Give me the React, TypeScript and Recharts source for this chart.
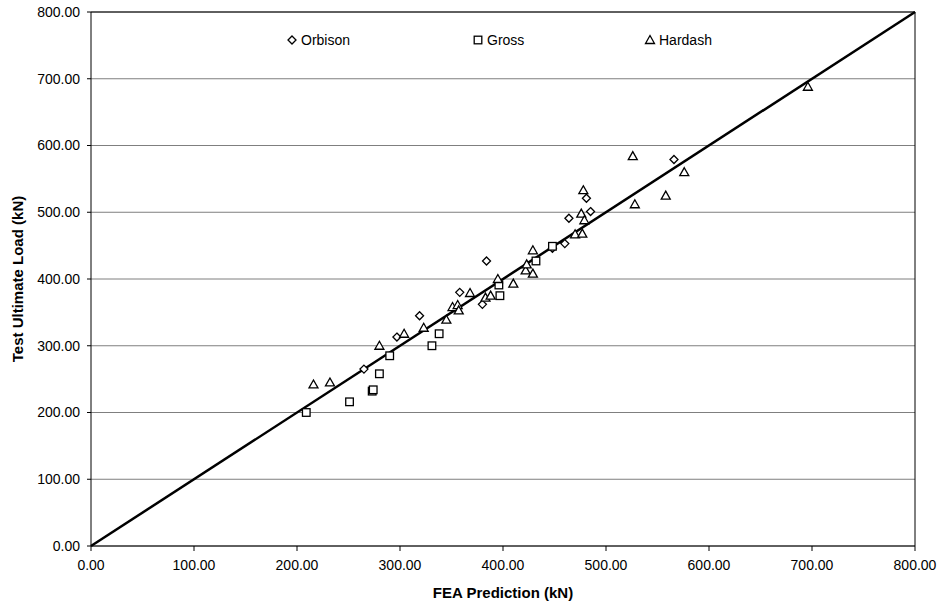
import { ScatterChart, Scatter, XAxis, YAxis, CartesianGrid, ReferenceLine } from 'recharts'

const axisTicks = [0, 100, 200, 300, 400, 500, 600, 700, 800]

const orbisonFea = [265, 297, 319, 358, 380, 384, 448, 460, 464, 481, 485, 566]
const orbisonTest = [265, 313, 345, 380, 362, 427, 446, 453, 491, 521, 501, 579]

const grossFea = [209, 251, 273, 274, 280, 290, 331, 338, 396, 397, 432, 448]
const grossTest = [200, 216, 232, 234, 258, 285, 300, 318, 391, 375, 427, 449]

const hardashFea = [216, 232, 280, 304, 323, 345, 351, 356, 357, 368, 383, 388, 395, 410, 422, 423, 429, 429, 470, 476, 477, 478, 479, 526, 528, 558, 576, 696]
const hardashTest = [242, 245, 300, 318, 327, 339, 358, 361, 353, 379, 372, 375, 400, 393, 413, 422, 443, 408, 467, 498, 468, 533, 488, 584, 512, 525, 560, 688]

const equality = [0, 800]

const zip = (xs: number[], ys: number[]) => xs.map((x, i) => ({ x, y: ys[i] }))

const font = '"Liberation Sans", Arial, sans-serif'

function Diamond(props: any) {
  const { cx, cy } = props
  const r = 4
  return <path d={`M${cx},${cy - r}L${cx + r},${cy}L${cx},${cy + r}L${cx - r},${cy}Z`} fill="#fff" stroke="#000" strokeWidth={1.3} />
}

function Square(props: any) {
  const { cx, cy } = props
  const r = 3.8
  return <rect x={cx - r} y={cy - r} width={r * 2} height={r * 2} fill="#fff" stroke="#000" strokeWidth={1.3} />
}

function Triangle(props: any) {
  const { cx, cy } = props
  return <path d={`M${cx},${cy - 4.5}L${cx + 4.5},${cy + 3.5}L${cx - 4.5},${cy + 3.5}Z`} fill="#fff" stroke="#000" strokeWidth={1.3} />
}

const legendItems = [
  { name: 'Orbison', Icon: Diamond, width: 186 },
  { name: 'Gross', Icon: Square, width: 172 },
  { name: 'Hardash', Icon: Triangle, width: 100 }
]

// legend sits inside the plot, drawn over the chart so it doesn't shrink the plot area
function LegendBox() {
  return (
    <div style={{ position: 'absolute', left: 286, top: 32, display: 'flex', fontFamily: font, fontSize: 14, color: '#000' }}>
      {legendItems.map(({ name, Icon, width }) => (
        <div key={name} style={{ width, display: 'flex', alignItems: 'center' }}>
          <svg width={12} height={12} style={{ marginRight: 3 }}>
            <Icon cx={6} cy={6} />
          </svg>
          {name}
        </div>
      ))}
    </div>
  )
}

const fmt = (v: number) => v.toFixed(2)

export default function App() {
  return (
    <div style={{ position: 'absolute', left: 0, top: 0, background: '#fff' }}>
      <ScatterChart width={942} height={610} margin={{ top: 12, right: 27, bottom: 0, left: 0 }}>
        <CartesianGrid horizontal vertical={false} stroke="#7f7f7f" strokeWidth={1} />
        <XAxis
          type="number"
          dataKey="x"
          domain={[0, 800]}
          ticks={axisTicks}
          tickFormatter={fmt}
          height={64}
          stroke="#000"
          tickSize={5}
          tickMargin={9}
          tick={{ fill: '#000', fontSize: 14, fontFamily: font }}
          label={{
            content: () => (
              <text x={503} y={598} textAnchor="middle" fontFamily={font} fontWeight="bold" fontSize={15} fill="#000">
                FEA Prediction (kN)
              </text>
            )
          }}
        />
        <YAxis
          type="number"
          dataKey="y"
          domain={[0, 800]}
          ticks={axisTicks}
          tickFormatter={fmt}
          width={91}
          stroke="#000"
          tickSize={4}
          tickMargin={7}
          tick={{ fill: '#000', fontSize: 14, fontFamily: font }}
          label={{
            content: () => (
              <text x={23} y={279} transform="rotate(-90 23 279)" textAnchor="middle" fontFamily={font} fontWeight="bold" fontSize={15} fill="#000">
                Test Ultimate Load (kN)
              </text>
            )
          }}
        />
        <ReferenceLine y={800} stroke="#000" />
        <ReferenceLine x={800} stroke="#000" />
        <ReferenceLine
          segment={[{ x: equality[0], y: equality[0] }, { x: equality[1], y: equality[1] }]}
          stroke="#000"
          strokeWidth={2.5}
        />
        <Scatter name="Orbison" data={zip(orbisonFea, orbisonTest)} shape={Diamond} isAnimationActive={false} />
        <Scatter name="Gross" data={zip(grossFea, grossTest)} shape={Square} isAnimationActive={false} />
        <Scatter name="Hardash" data={zip(hardashFea, hardashTest)} shape={Triangle} isAnimationActive={false} />
      </ScatterChart>
      <LegendBox />
    </div>
  )
}
